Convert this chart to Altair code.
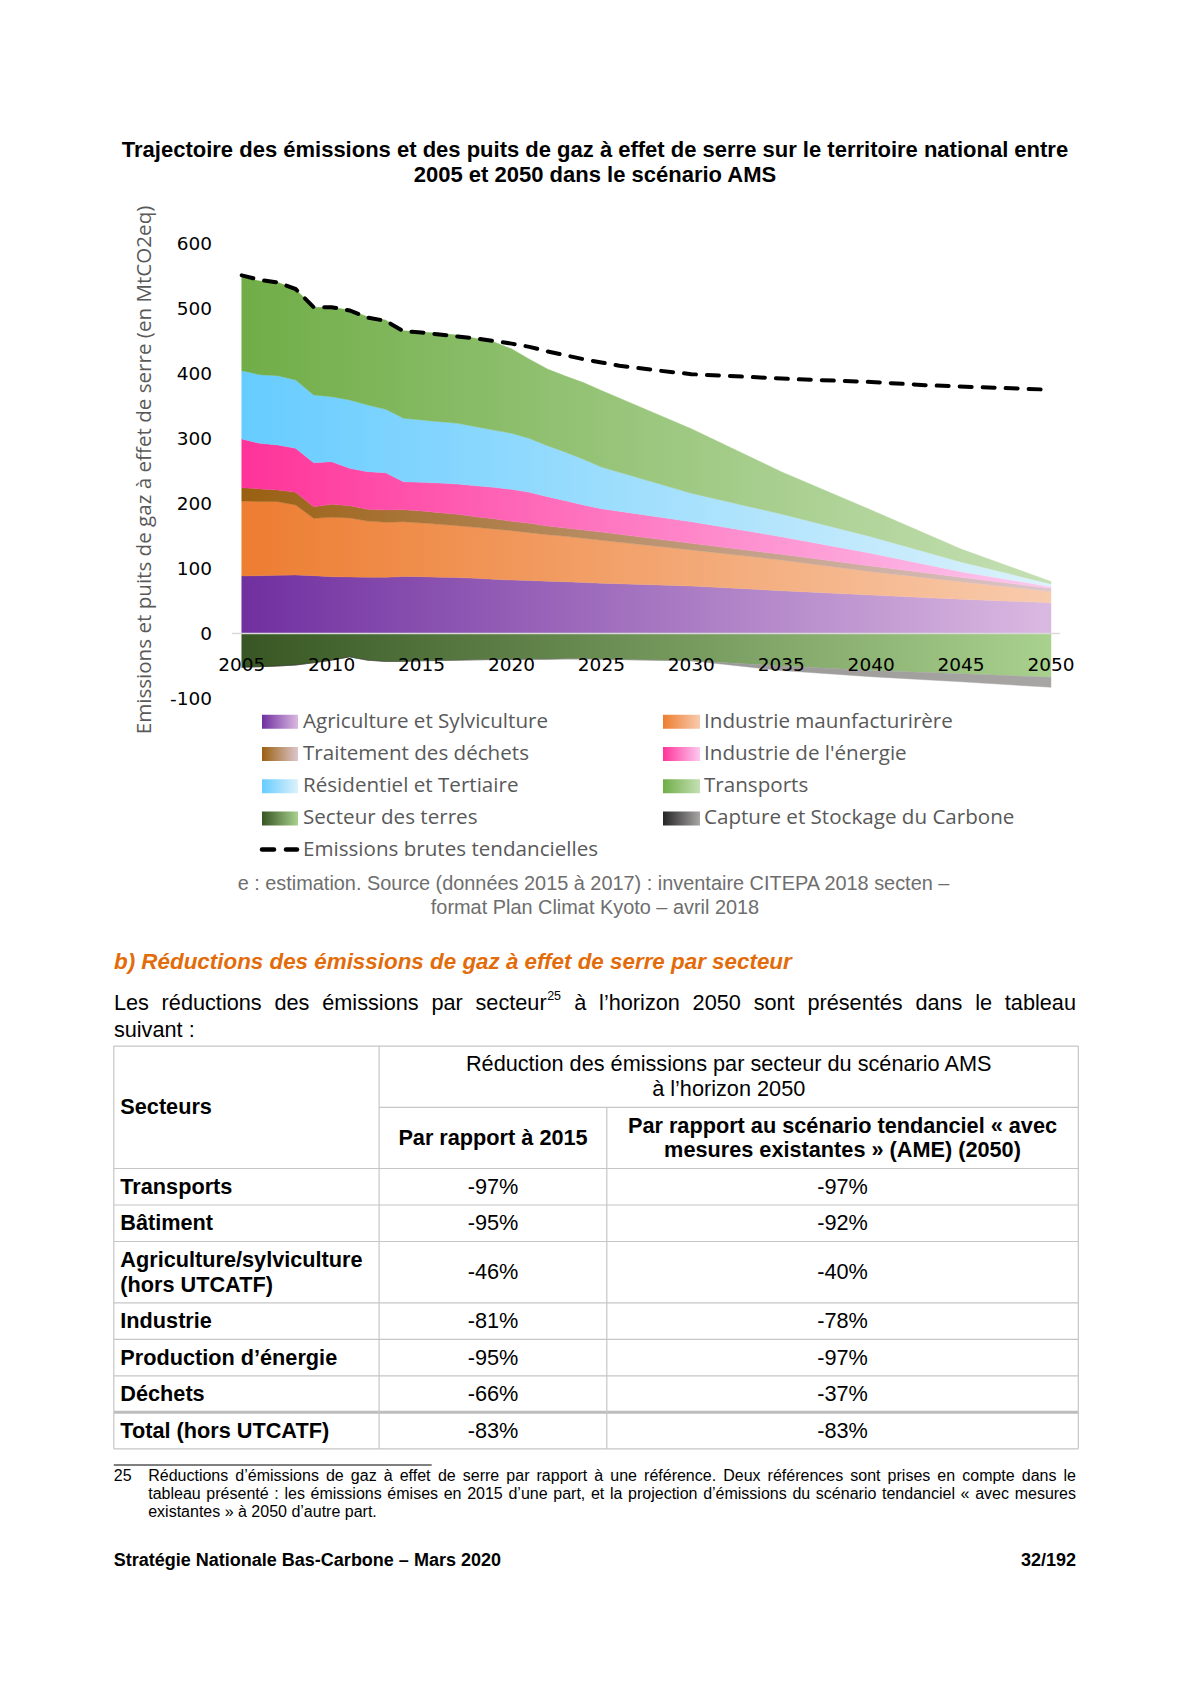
import altair as alt
import pandas as pd

# ---------------- data ----------------
years = [2005, 2006, 2007, 2008, 2009, 2010, 2011, 2012, 2013, 2014, 2015,
         2016, 2017, 2018, 2019, 2020, 2021, 2022, 2023, 2024, 2025,
         2030, 2035, 2040, 2045, 2050]
agriculture = [88.5, 89, 89.5, 90, 89, 87.4, 87, 86.5, 86.4, 87.7, 87.5,
               86.5, 86, 85, 83.5, 82.3, 81.5, 80.5, 79.7, 78.5, 77.5,
               73.1, 65.9, 59.2, 52.6, 47.4]
industrie = [115.3, 114, 113.3, 107.7, 88.2, 91.3, 90.7, 86.5, 84.6, 84.3, 82.5,
             81.5, 79.9, 78.3, 77.3, 75.9, 73.5, 71.5, 69.8, 67.9, 65.8,
             55.4, 47.1, 35.9, 27.1, 17.1]
dechets = [20.6, 19.5, 18, 19.5, 17.9, 20, 19, 18, 19, 18.5, 18.5,
           17.9, 17.4, 16.4, 15.8, 14.4, 14.5, 13.4, 12.8, 12.8, 12.7,
           10.2, 8.8, 8.7, 6.7, 5]
energie = [74.8, 70.1, 69.2, 67.7, 67.7, 65.7, 57.4, 58, 57.4, 43.1, 44.1,
           45.6, 46.7, 47.7, 48.3, 49.2, 47.7, 45.1, 42.1, 38.5, 36,
           33.3, 27.1, 19.5, 8.7, 2.5]
residentiel = [105.2, 105.6, 106.7, 105.1, 104.1, 100, 105.1, 102.5, 97.5, 97.4, 95.9,
               94.4, 93.3, 90.8, 88.1, 86.2, 82.8, 78.5, 74.6, 70.3, 64,
               43.7, 34.9, 25.7, 14.9, 4.3]
transports = [143.6, 144.1, 143.6, 139.5, 134.9, 137.4, 138.5, 135.9, 137.4, 134.9, 135.3,
              135.9, 135.9, 135.9, 136, 130, 122, 118, 117, 118, 118,
              99.3, 65.2, 41, 20, 3.7]
terres = [-52, -51, -50, -48.5, -45, -41, -36, -41, -43, -43, -42,
          -41.5, -41, -40.5, -40, -40, -39.5, -39.5, -39, -39, -39.5,
          -42, -50, -57, -62, -67.4]
ccs = [0, 0, 0, 0, 0, 0, 0, 0, 0, 0, 0,
       0, 0, 0, 0, 0, 0, 0, 0, 0, 0,
       0, -7, -9.5, -12.3, -15.4]

tend_years = [2005, 2006, 2007, 2008, 2009, 2010, 2011, 2012, 2013, 2014, 2015,
              2016, 2017, 2018, 2019, 2020, 2021, 2022, 2023, 2024, 2025, 2026,
              2028, 2030, 2033, 2036, 2040, 2043, 2046, 2050]
tendanciel = [551, 544, 540, 530, 502, 502, 497, 486, 481, 465, 463,
              460, 457, 454, 450, 446, 441, 434, 428, 422, 417, 412,
              405, 399, 395, 391, 387, 382, 379, 375]

y_ticks = [600, 500, 400, 300, 200, 100, 0, -100]
x_ticks = [2005, 2010, 2015, 2020, 2025, 2030, 2035, 2040, 2045, 2050]

series_names = ["Agriculture et Sylviculture", "Industrie maunfacturirère",
                "Traitement des déchets", "Industrie de l'énergie",
                "Résidentiel et Tertiaire", "Transports",
                "Secteur des terres", "Capture et Stockage du Carbone"]
series_values = [agriculture, industrie, dechets, energie, residentiel,
                 transports, terres, ccs]
series_colors = [("#7030A0", "#DAB9E1"), ("#ED7D31", "#F8CBAD"),
                 ("#9A6012", "#DDC6CC"), ("#FF3399", "#FDC9F0"),
                 ("#66CCFF", "#DDF2FB"), ("#70AD47", "#C5E0B4"),
                 ("#375623", "#A9D18E"), ("#262626", "#A8A5A5")]

rows = []
for k, (name, vals) in enumerate(zip(series_names, series_values)):
    for yr, v in zip(years, vals):
        rows.append({"year": yr, "series": name, "value": v, "order": k})
df = pd.DataFrame(rows)
df_tend = pd.DataFrame({"year": tend_years, "value": tendanciel})

# ---------------- layout helpers ----------------
W, H = 1174, 1668
one = pd.DataFrame({"a": [0]})


def P(v):
    return v - 8


def grad(c0, c1, mid=None):
    stops = [alt.GradientStop(color=c0, offset=0)]
    if mid:
        stops.append(alt.GradientStop(color=mid, offset=0.55))
    stops.append(alt.GradientStop(color=c1, offset=1))
    return alt.LinearGradient(gradient="linear", stops=stops, x1=0, x2=1, y1=0, y2=0)


def txt(s, x, y, size, color="#000000", weight="normal", style="normal",
        align="left", font="Liberation Sans", angle=0):
    return alt.Chart(one).mark_text(
        fontSize=size, font=font, fontWeight=weight, fontStyle=style,
        color=color, align=align, baseline="middle", angle=angle
    ).encode(x=alt.value(P(x)), y=alt.value(P(y)), text=alt.value(s))


def hline(x1, x2, y, color="#c6c6c6", width=1.2):
    return alt.Chart(one).mark_rule(color=color, strokeWidth=width).encode(
        x=alt.value(P(x1)), x2=alt.value(P(x2)), y=alt.value(P(y)))


def vline(x, y1, y2, color="#c6c6c6", width=1.2):
    return alt.Chart(one).mark_rule(color=color, strokeWidth=width).encode(
        x=alt.value(P(x)), y=alt.value(P(y1)), y2=alt.value(P(y2)))


AR = dict(zip("abcdefghijklmnopqrstuvwxyz",
              [556, 556, 500, 556, 556, 278, 556, 556, 222, 222, 500, 222, 833,
               556, 556, 556, 556, 333, 500, 278, 556, 500, 722, 500, 500, 500]))
AR.update(dict(zip("ABCDEFGHIJKLMNOPQRSTUVWXYZ",
                   [667, 667, 722, 722, 667, 611, 778, 722, 278, 500, 667, 556, 833,
                    722, 778, 667, 778, 722, 667, 611, 722, 667, 944, 667, 667, 611])))
AR.update({" ": 278, ".": 278, ",": 278, ":": 278, ";": 278, "(": 333, ")": 333,
           "-": 333, "’": 222, "'": 191, "«": 556, "»": 556, "–": 556, "/": 278,
           "%": 889, "é": 556, "è": 556, "ê": 556, "à": 556, "â": 556, "ç": 500,
           "î": 278, "ô": 556})


def tw(s, size):
    return sum(AR.get(ch, 556) for ch in s) * size / 1000.0


def justified(words, x0, x1, y, size, color="#000000", extra=None):
    extra = extra or {}
    widths = [tw(w, size) + extra.get(i, 0) for i, w in enumerate(words)]
    gap = (x1 - x0 - sum(widths)) / (len(words) - 1)
    out, pos, x = [], [], x0
    for w, wd in zip(words, widths):
        out.append(txt(w, x, y, size, color))
        pos.append(x)
        x += wd + gap
    return out, pos


# ---------------- chart ----------------
xs = alt.Scale(domain=[2005, 2050], range=[P(241.7), P(1051)], nice=False, zero=False)
ys = alt.Scale(domain=[-100, 600], range=[P(698.5), P(243.5)], nice=False, zero=False)

sort_order = [alt.SortField("order", order="ascending")]
base_pos = (alt.Chart(df)
            .transform_filter(alt.datum.order < 6)
            .transform_stack(stack="value", groupby=["year"], as_=["y0", "y1"], sort=sort_order))
base_neg = (alt.Chart(df)
            .transform_filter(alt.datum.order >= 6)
            .transform_calculate(mag="-datum.value")
            .transform_stack(stack="mag", groupby=["year"], as_=["m0", "m1"], sort=sort_order)
            .transform_calculate(y0="-datum.m0", y1="-datum.m1"))

layers = []
for k, (name, (c0, c1)) in enumerate(zip(series_names, series_colors)):
    mid = "#9A9797" if k == 7 else None
    g = grad(c0, c1, mid)
    b = base_pos if k < 6 else base_neg
    layers.append(
        b.transform_filter(alt.datum.series == name)
        .mark_area(color=g, stroke=g, strokeWidth=0.4)
        .encode(x=alt.X("year:Q", scale=xs, axis=None),
                y=alt.Y("y0:Q", scale=ys, axis=None),
                y2="y1:Q"))

zero_df = pd.DataFrame({"v": [0]})
layers.append(alt.Chart(zero_df).mark_rule(color="#d9d9d9", strokeWidth=1.5).encode(
    x=alt.value(P(232)), x2=alt.value(P(1060)),
    y=alt.Y("v:Q", scale=ys, axis=None)))

layers.append(alt.Chart(df_tend).mark_line(
    color="#000000", strokeWidth=4, strokeDash=[12, 11], strokeCap="round").encode(
    x=alt.X("year:Q", scale=xs, axis=None),
    y=alt.Y("value:Q", scale=ys, axis=None)))

# axis labels
layers.append(alt.Chart(pd.DataFrame({"t": y_ticks, "lab": [str(v) for v in y_ticks]})).mark_text(
    font="DejaVu Sans", fontSize=18.5, align="right", baseline="middle", color="#000000").encode(
    x=alt.value(P(212)), y=alt.Y("t:Q", scale=ys, axis=None), text="lab:N"))
layers.append(alt.Chart(pd.DataFrame({"t": x_ticks, "lab": [str(v) for v in x_ticks]})).mark_text(
    font="DejaVu Sans", fontSize=18.5, align="center", baseline="middle", color="#000000").encode(
    x=alt.X("t:Q", scale=xs, axis=None), y=alt.value(P(665)), text="lab:N"))

LEG_FONT = "Open Sans"
LEG_COL = "#595959"
LEG_SIZE = 20.6
layers.append(txt("Emissions et puits de gaz à effet de serre (en MtCO2eq)", 145, 470, LEG_SIZE,
                  LEG_COL, font=LEG_FONT, align="center", angle=270))

# titles
layers.append(txt("Trajectoire des émissions et des puits de gaz à effet de serre sur le territoire national entre",
                  595, 149.8, 22, weight="bold", align="center"))
layers.append(txt("2005 et 2050 dans le scénario AMS", 595, 174.5, 22, weight="bold", align="center"))

# legend
leg_rows = [721.7, 754, 786.2, 818.4]
left_items = [0, 2, 4, 6]
right_items = [1, 3, 5, 7]
for r, (li, ri) in enumerate(zip(left_items, right_items)):
    yc = leg_rows[r]
    for idx, sx0, sx1, tx in [(li, 262, 298, 303), (ri, 663, 700, 704)]:
        c0, c1 = series_colors[idx]
        layers.append(alt.Chart(one).mark_rect(color=grad(c0, c1)).encode(
            x=alt.value(P(sx0)), x2=alt.value(P(sx1)),
            y=alt.value(P(yc - 7)), y2=alt.value(P(yc + 7))))
        layers.append(txt(series_names[idx], tx, yc, LEG_SIZE, LEG_COL, font=LEG_FONT))
for dx0, dx1 in [(262, 274), (286, 297)]:
    layers.append(alt.Chart(one).mark_rule(color="#000000", strokeWidth=4.5, strokeCap="round").encode(
        x=alt.value(P(dx0)), x2=alt.value(P(dx1)), y=alt.value(P(849.5))))
layers.append(txt("Emissions brutes tendancielles", 303, 849.5, LEG_SIZE, LEG_COL, font=LEG_FONT))

# caption
CAP = "#6e6e6e"
layers.append(txt("e : estimation. Source (données 2015 à 2017) : inventaire CITEPA 2018 secten –",
                  593.5, 884, 19.9, CAP, align="center"))
layers.append(txt("format Plan Climat Kyoto – avril 2018", 595, 907.5, 19.9, CAP, align="center"))

# heading + paragraph
layers.append(txt("b) Réductions des émissions de gaz à effet de serre par secteur", 114, 962.3, 22.4,
                  "#E36C0A", weight="bold", style="italic"))
BS = 21.7
para_words = ["Les", "réductions", "des", "émissions", "par", "secteur", "à", "l’horizon",
              "2050", "sont", "présentés", "dans", "le", "tableau"]
sup_w = tw("25", 12.5) + 1
pl, ppos = justified(para_words, 113.9, 1076, 1003.1, BS, extra={5: sup_w})
layers += pl
layers.append(txt("25", ppos[5] + tw("secteur", BS) + 0.5, 996, 12.5))
layers.append(txt("suivant :", 113.9, 1030, BS))

# table
TL, C1, C2, TR = 113.8, 379.1, 606.8, 1078.3
TT, TB = 1046.1, 1448.8
layers.append(hline(TL, TR, TT))
layers.append(hline(C1, TR, 1107.3))
for yy in [1168.5, 1205, 1241.5, 1302.8, 1339.3, 1375.8, 1448.8]:
    layers.append(hline(TL, TR, yy))
layers.append(hline(TL, TR, 1412.3, color="#bdbdbd", width=3))
layers.append(vline(TL, TT, TB))
layers.append(vline(TR, TT, TB))
layers.append(vline(C1, TT, TB))
layers.append(vline(C2, 1107.3, TB))

TS = 21.7
layers.append(txt("Secteurs", 120.3, 1107.3, TS, weight="bold"))
layers.append(txt("Réduction des émissions par secteur du scénario AMS", 728.7, 1064.3, TS, align="center"))
layers.append(txt("à l’horizon 2050", 728.7, 1089, TS, align="center"))
layers.append(txt("Par rapport à 2015", 493, 1138.4, TS, weight="bold", align="center"))
layers.append(txt("Par rapport au scénario tendanciel « avec", 842.5, 1125.6, TS, weight="bold", align="center"))
layers.append(txt("mesures existantes » (AME) (2050)", 842.5, 1150.3, TS, weight="bold", align="center"))

row_labels = [["Transports"], ["Bâtiment"], ["Agriculture/sylviculture", "(hors UTCATF)"],
              ["Industrie"], ["Production d’énergie"], ["Déchets"], ["Total (hors UTCATF)"]]
red_2015 = ["-97%", "-95%", "-46%", "-81%", "-95%", "-66%", "-83%"]
red_ame = ["-97%", "-92%", "-40%", "-78%", "-97%", "-37%", "-83%"]
row_y = [1186.8, 1223.3, 1272.1, 1321, 1357.5, 1394, 1430.6]
for lab, a, b, yc in zip(row_labels, red_2015, red_ame, row_y):
    if len(lab) == 1:
        layers.append(txt(lab[0], 120.3, yc, TS, weight="bold"))
    else:
        layers.append(txt(lab[0], 120.3, yc - 12.3, TS, weight="bold"))
        layers.append(txt(lab[1], 120.3, yc + 12.4, TS, weight="bold"))
    layers.append(txt(a, 493, yc, TS, align="center"))
    layers.append(txt(b, 842.5, yc, TS, align="center"))

# footnote
layers.append(hline(113.8, 431.7, 1465, color="#000000", width=1))
FS = 16
layers.append(txt("25", 113.8, 1475.7, FS))
fl1 = "Réductions d’émissions de gaz à effet de serre par rapport à une référence. Deux références sont prises en compte dans le".split(" ")
fl2 = "tableau présenté : les émissions émises en 2015 d’une part, et la projection d’émissions du scénario tendanciel « avec mesures".split(" ")
layers += justified(fl1, 148.2, 1076, 1475.7, FS)[0]
layers += justified(fl2, 148.2, 1076, 1493.9, FS)[0]
layers.append(txt("existantes » à 2050 d’autre part.", 148.2, 1512.2, FS))

# footer
layers.append(txt("Stratégie Nationale Bas-Carbone – Mars 2020", 113.8, 1560.5, 18, weight="bold"))
layers.append(txt("32/192", 1076, 1560.5, 18, weight="bold", align="right"))

chart = alt.layer(*layers).properties(
    width=W, height=H, autosize=alt.AutoSizeParams(type="none"), padding=0
).configure_view(stroke=None)

chart.save("out.html", embed_options={"renderer": "svg", "actions": False})
